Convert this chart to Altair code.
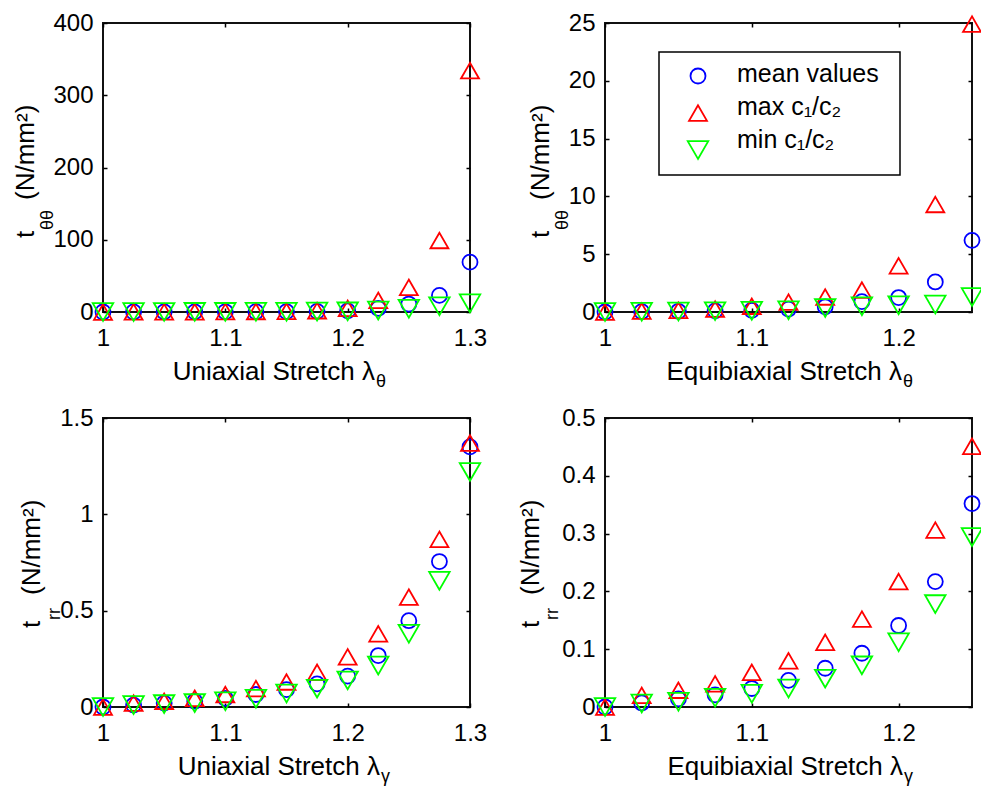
import altair as alt
import pandas as pd

# ---------------- data ----------------
series_names = ["mean values", "max c₁/c₂", "min c₁/c₂"]
series_colors = ["#0000ff", "#ff0000", "#00ff00"]
series_shapes = ["circle", "triangle-up", "triangle-down"]
series_sizes = [225, 420, 420]

x_uni = [1.0, 1.025, 1.05, 1.075, 1.1, 1.125, 1.15, 1.175, 1.2, 1.225, 1.25, 1.275, 1.3]
x_equi = [1.0, 1.025, 1.05, 1.075, 1.1, 1.125, 1.15, 1.175, 1.2, 1.225, 1.25]

# uniaxial t_theta-theta
uni_tt_mean = [0, 0.05, 0.1, 0.2, 0.3, 0.4, 0.6, 0.9, 1.5, 5, 11, 23, 69]
uni_tt_max = [0, 0.1, 0.2, 0.3, 0.5, 0.7, 1.0, 1.8, 5, 16, 34, 99, 334]
uni_tt_min = [0, 0.05, 0.1, 0.15, 0.2, 0.3, 0.4, 0.6, 0.9, 2, 4.5, 8, 12]

# equibiaxial t_theta-theta
equi_tt_mean = [0, 0.03, 0.06, 0.1, 0.15, 0.25, 0.45, 0.9, 1.25, 2.6, 6.2]
equi_tt_max = [0, 0.08, 0.15, 0.25, 0.5, 0.85, 1.3, 1.9, 4.0, 9.3, 24.9]
equi_tt_min = [0, 0.02, 0.04, 0.07, 0.1, 0.15, 0.35, 0.5, 0.58, 0.65, 1.3]

# uniaxial t_rr
uni_rr_mean = [0, 0.01, 0.02, 0.03, 0.045, 0.065, 0.09, 0.12, 0.16, 0.267, 0.448, 0.755, 1.35]
uni_rr_max = [0, 0.02, 0.03, 0.045, 0.065, 0.095, 0.13, 0.18, 0.26, 0.38, 0.57, 0.87, 1.37]
uni_rr_min = [0, 0.01, 0.015, 0.02, 0.03, 0.043, 0.07, 0.095, 0.138, 0.215, 0.38, 0.655, 1.22]

# equibiaxial t_rr
equi_rr_mean = [0, 0.007, 0.014, 0.021, 0.032, 0.046, 0.067, 0.093, 0.141, 0.217, 0.352]
equi_rr_max = [0, 0.02, 0.029, 0.04, 0.06, 0.08, 0.112, 0.152, 0.217, 0.306, 0.451]
equi_rr_min = [0, 0.006, 0.009, 0.016, 0.023, 0.032, 0.049, 0.072, 0.112, 0.178, 0.294]

x_ticks_uni = [1, 1.1, 1.2, 1.3]
x_ticks_equi = [1, 1.1, 1.2]
y_ticks_1 = [0, 100, 200, 300, 400]
y_ticks_2 = [0, 5, 10, 15, 20, 25]
y_ticks_3 = [0, 0.5, 1, 1.5]
y_ticks_4 = [0, 0.1, 0.2, 0.3, 0.4, 0.5]

# ---------------- style ----------------
FONT = "Liberation Sans"
W, H = 367, 289
one = pd.DataFrame({"k": [0]})


def long_df(xs, mean, mx, mn):
    rows = []
    for name, vals in zip(series_names, [mean, mx, mn]):
        for x, v in zip(xs, vals):
            rows.append({"x": x, "v": v, "series": name})
    return pd.DataFrame(rows)


def txt(text, x, y, size, angle=0, align="left"):
    return alt.Chart(one).mark_text(
        text=text, font=FONT, fontSize=size, angle=angle, align=align,
        baseline="alphabetic", color="black"
    ).encode(x=alt.value(x), y=alt.value(y))


def tick_axis(orient, values):
    return alt.Axis(orient=orient, values=values, labels=False, domain=False,
                    ticks=True, tickSize=4, offset=-4, tickColor="black",
                    tickWidth=1.5, grid=False, title=None)


def panel(df, xdom, xticks, ydom, yticks, xmain, xsub, xjunc, ysub,
          ymain_x, ysub_x, t_start, sub_start, legend=False):
    xs = alt.Scale(domain=xdom, nice=False, zero=False)
    ys = alt.Scale(domain=ydom, nice=False, zero=False)
    color = alt.Color("series:N", scale=alt.Scale(domain=series_names, range=series_colors), legend=None)
    shape = alt.Shape("series:N", scale=alt.Scale(domain=series_names, range=series_shapes), legend=None)
    size = alt.Size("series:N", scale=alt.Scale(domain=series_names, range=series_sizes), legend=None)

    x_axis = alt.Axis(orient="bottom", values=xticks, labelExpr="toString(datum.value)",
                      title=None, grid=False, domain=False, ticks=False, tickSize=0,
                      labelPadding=14, labelFontSize=24, labelFont=FONT, labelColor="black",
                      labelFlush=False, labelOverlap=False)
    y_axis = alt.Axis(orient="left", values=yticks, labelExpr="toString(datum.value)",
                      title=None, grid=False, domain=False, ticks=False, tickSize=0,
                      labelPadding=10, labelFontSize=24, labelFont=FONT, labelColor="black",
                      labelFlush=False, labelOverlap=False)

    pts = alt.Chart(df).mark_point(filled=False, strokeWidth=1.8, opacity=1).encode(
        x=alt.X("x:Q", scale=xs, axis=x_axis),
        y=alt.Y("v:Q", scale=ys, axis=y_axis),
        color=color, shape=shape, size=size,
    )
    ticks_a = alt.Chart(df).mark_point(opacity=0).encode(
        x=alt.X("x:Q", scale=xs, axis=tick_axis("bottom", xticks)),
        y=alt.Y("v:Q", scale=ys, axis=tick_axis("left", yticks)),
    )
    ticks_b = alt.Chart(df).mark_point(opacity=0).encode(
        x=alt.X("x:Q", scale=xs, axis=tick_axis("top", xticks)),
        y=alt.Y("v:Q", scale=ys, axis=tick_axis("right", yticks)),
    )
    layers = [pts, ticks_a, ticks_b,
              txt("t", ymain_x, t_start, 26, 270, "left"),
              txt(ysub, ysub_x, sub_start, 18, 270, "left"),
              txt("(N/mm²)", ymain_x, 177, 26, 270, "left"),
              txt(xmain, xjunc, 357, 26, 0, "right"),
              txt(xsub, xjunc + 1, 364, 18, 0, "left")]
    if legend:
        leg_df = pd.DataFrame({"series": series_names})
        box = alt.Chart(one).mark_rect(fill="white", stroke="black", strokeWidth=1.5).encode(
            x=alt.value(54), x2=alt.value(295), y=alt.value(29), y2=alt.value(152))
        sym = alt.Chart(leg_df).mark_point(filled=False, strokeWidth=1.8, opacity=1).encode(
            x=alt.value(93),
            y=alt.Y("series:N", scale=alt.Scale(domain=series_names, range=[53, 127], padding=0), axis=None),
            color=color, shape=shape, size=size)
        ltxt = alt.Chart(leg_df).mark_text(align="left", baseline="alphabetic", font=FONT,
                                           fontSize=25, color="black").encode(
            x=alt.value(132),
            y=alt.Y("series:N", scale=alt.Scale(domain=series_names, range=[59, 125], padding=0), axis=None),
            text="series:N")
        layers += [box, sym, ltxt]
    ch = alt.layer(*layers).resolve_axis(x="independent", y="independent")
    if legend:
        ch = ch.resolve_scale(y="independent")
    return ch.properties(width=W, height=H)


p1 = panel(long_df(x_uni, uni_tt_mean, uni_tt_max, uni_tt_min), [1, 1.3], x_ticks_uni,
           [0, 400], y_ticks_1, "Uniaxial Stretch λ", "θ", 272, "θθ",
           -69, -50, 215, 207)
p2 = panel(long_df(x_equi, equi_tt_mean, equi_tt_max, equi_tt_min), [1, 1.25], x_ticks_equi,
           [0, 25], y_ticks_2, "Equibiaxial Stretch λ", "θ", 297, "θθ",
           -56, -37, 215, 207, legend=True)
p3 = panel(long_df(x_uni, uni_rr_mean, uni_rr_max, uni_rr_min), [1, 1.3], x_ticks_uni,
           [0, 1.5], y_ticks_3, "Uniaxial Stretch λ", "γ", 277, "rr",
           -63, -43, 210, 202)
p4 = panel(long_df(x_equi, equi_rr_mean, equi_rr_max, equi_rr_min), [1, 1.25], x_ticks_equi,
           [0, 0.5], y_ticks_4, "Equibiaxial Stretch λ", "γ", 298, "rr",
           -66, -47, 210, 202)

# fixed frame: panel grid origin at (103, 23) inside a 981 x 787 canvas
chart = alt.concat(p1, p2, p3, p4, columns=2, spacing={"row": 106, "column": 135},
                   bounds="flush",
                   padding={"left": 103, "top": 23, "right": 878, "bottom": 764},
                   autosize=alt.AutoSizeParams(type="none")
                   ).configure_view(stroke="#111111", strokeWidth=2)

chart.save("out.html", embed_options={"renderer": "svg", "actions": False})
